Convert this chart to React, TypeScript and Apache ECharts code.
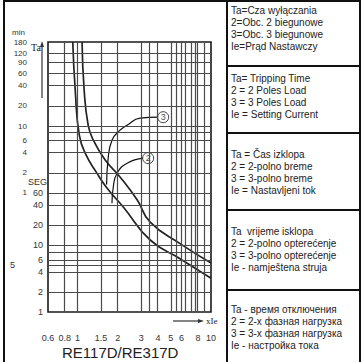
import React, { useEffect, useRef } from 'react';
import * as echarts from 'echarts';

// ---- axis ticks ----
const xTicks = [0.6, 0.8, 1, 1.5, 2, 3, 4, 5, 6, 8, 10];
const minuteTicks = [180, 120, 90, 60, 40, 20, 10, 6, 4, 2, 1];
const secondTicks = [60, 40, 20, 10, 6, 4, 2, 1];
const strayTick = [5];
const xGridLines = [0.8, 1, 1.5, 2, 3, 3.5, 4, 5, 5.5, 6, 6.5, 7, 7.5, 8, 9];
const yGridSeconds = [7200, 5400, 3600, 2400, 1200, 600, 480, 360, 240, 120, 60, 40, 20, 10, 8, 6, 5, 4, 2];

// ---- curves (x = multiple of Ie, t = seconds) ----
const curve3X = [0.92, 0.96, 1.03, 1.16, 1.38, 1.66, 2.2, 3.5, 5.9, 10];
const curve3T = [10800, 2060, 440, 220, 123, 71, 37, 11.9, 6.2, 3.2];
const curve2X = [1.08, 1.12, 1.2, 1.31, 1.61, 2.08, 2.8, 3.5, 5.9, 10];
const curve2T = [10800, 2060, 620, 370, 186, 104, 47, 22, 10.4, 5.4];

// ---- leader lines to labels ----
const leader3X = [4.01, 2.94, 2.35, 2.08, 1.81, 1.69, 1.65];
const leader3T = [813, 787, 618, 520, 369, 186, 80];
const leader2X = [3.1, 2.35, 1.98, 1.85, 1.81];
const leader2T = [199, 167, 119, 73, 42];
const markerX = [4.38, 3.38];
const markerT = [813, 199];
const markerLabels = ['3', '2'];

const legendBlocks = [
  ['Ta=Cza wyłączania', '2=Obc. 2 biegunowe', '3=Obc. 3 biegunowe', 'Ie=Prąd Nastawczy'],
  ['Ta= Tripping Time', '2 = 2 Poles Load', '3 = 3 Poles Load', 'Ie = Setting Current'],
  ['Ta = Čas izklopa', '2 = 2-polno breme', '3 = 3-polno breme', 'Ie = Nastavljeni tok'],
  ['Ta  vrijeme isklopa', '2 = 2-polno opterećenje', '3 = 3-polno opterećenje', 'Ie - namještena struja'],
  ['Ta - время отключения', '2 = 2-х фазная нагрузка', '3 = 3-х фазная нагрузка', 'Ie - настройка тока'],
];
const blockTops = [10, 78, 154, 231, 309];
const dividerYs = [66, 133, 210, 290];

const L = Math.log10;
const toPts = (xs: number[], ts: number[]) => xs.map((x, i) => [L(x), L(ts[i])]);
const YMAX = L(10800);
const SANS = 'Liberation Sans, Arial, sans-serif';
const SERIF = 'Liberation Serif, Times New Roman, serif';

function nearestLabel(v: number, vals: number[], scale: number) {
  let best = vals[0];
  let bd = Infinity;
  for (const t of vals) {
    const d = Math.abs(L(t * scale) - v);
    if (d < bd) { bd = d; best = t; }
  }
  return String(best);
}

export default function App() {
  const ref = useRef<HTMLDivElement>(null);
  useEffect(() => {
    document.body.style.margin = '0';
    if (!ref.current) return;
    const chart = echarts.init(ref.current, undefined, { renderer: 'svg' });

    const yBase = {
      type: 'value' as const,
      min: 0,
      max: YMAX,
      position: 'left' as const,
      axisLine: { show: false },
      axisTick: { show: false },
      splitLine: { show: false },
    };

    const texts: any[] = [];
    legendBlocks.forEach((blk, bi) => {
      blk.forEach((line, li) => {
        texts.push({
          type: 'text',
          x: 231,
          y: blockTops[bi] + li * 12.2,
          style: { text: line, fontSize: 10, fontFamily: SANS, fill: '#222', textVerticalAlign: 'middle' },
        });
      });
    });

    const option: any = {
      animation: false,
      backgroundColor: '#fff',
      title: {
        text: 'RE117D/RE317D',
        left: 62,
        top: 345,
        padding: 0,
        textStyle: { fontSize: 15, fontWeight: 'normal', color: '#222', fontFamily: SANS },
      },
      grid: {
        left: 48, top: 42, right: 151, bottom: 50,
        show: true, borderColor: '#1a1a1a', borderWidth: 1.6, backgroundColor: 'transparent',
      },
      xAxis: {
        type: 'value',
        min: L(0.6),
        max: 1,
        axisLine: { show: false },
        axisTick: { show: false },
        splitLine: { show: false },
        axisLabel: {
          customValues: xTicks.map((v) => L(v)),
          formatter: (v: number) => nearestLabel(v, xTicks, 1),
          fontSize: 9, color: '#333', fontFamily: SANS, margin: 21,
        },
      },
      yAxis: [
        {
          ...yBase,
          offset: 0,
          axisLabel: {
            customValues: secondTicks.map((s) => L(s)),
            formatter: (v: number) => nearestLabel(v, secondTicks, 1),
            fontSize: 9, lineHeight: 8, color: '#333', fontFamily: SANS, margin: 5,
          },
        },
        {
          ...yBase,
          offset: 21,
          axisLabel: {
            customValues: minuteTicks.map((m) => L(m * 60)),
            formatter: (v: number) => nearestLabel(v, minuteTicks, 60),
            fontSize: 8, lineHeight: 8, color: '#333', fontFamily: SANS, margin: 0,
          },
        },
        {
          ...yBase,
          offset: 33,
          axisLabel: {
            customValues: strayTick.map((s) => L(s)),
            formatter: () => String(strayTick[0]),
            fontSize: 9, lineHeight: 8, color: '#333', fontFamily: SANS, margin: 0,
          },
        },
      ],
      graphic: [
        { type: 'rect', shape: { x: 4, y: 1, width: 356, height: 380 }, style: { fill: 'none', stroke: '#111', lineWidth: 2 }, z: 100 },
        { type: 'line', shape: { x1: 227, y1: 0, x2: 227, y2: 362 }, style: { stroke: '#111', lineWidth: 2 }, z: 100 },
        ...dividerYs.map((y) => ({ type: 'line', shape: { x1: 227, y1: y, x2: 361, y2: y }, style: { stroke: '#111', lineWidth: 2 }, z: 100 })),
        ...texts,
        { type: 'text', x: 12, y: 32, style: { text: 'min', fontSize: 8, fontFamily: SANS, fill: '#333', textVerticalAlign: 'middle' } },
        { type: 'text', x: 28, y: 182, style: { text: 'SEG', fontSize: 9, fontFamily: SANS, fill: '#333', textVerticalAlign: 'middle' } },
        { type: 'text', x: 31, y: 47, style: { text: 'Ta', fontSize: 10, fontFamily: SERIF, fill: '#222', textVerticalAlign: 'middle' } },
        { type: 'line', shape: { x1: 42, y1: 98, x2: 42, y2: 45 }, style: { stroke: '#333', lineWidth: 1.2 } },
        { type: 'polygon', shape: { points: [[42, 41], [40, 47], [44, 47]] }, style: { fill: '#333' } },
        { type: 'line', shape: { x1: 173, y1: 321, x2: 199, y2: 321 }, style: { stroke: '#333', lineWidth: 1.2 } },
        { type: 'polygon', shape: { points: [[204, 321], [198, 319], [198, 323]] }, style: { fill: '#333' } },
        { type: 'text', x: 206, y: 321, style: { text: 'xIe', fontSize: 9, fontFamily: SERIF, fill: '#222', textVerticalAlign: 'middle' } },
      ],
      series: [
        {
          type: 'line',
          name: 'grid',
          data: [[L(0.6), 0]],
          showSymbol: false,
          lineStyle: { opacity: 0 },
          silent: true,
          z: 1,
          markLine: {
            silent: true,
            symbol: ['none', 'none'],
            label: { show: false },
            lineStyle: { color: '#4a4a4a', width: 1.2, type: 'solid' },
            emphasis: { disabled: true },
            data: [
              ...xGridLines.map((v) => ({ xAxis: L(v) })),
              ...yGridSeconds.map((v) => ({ yAxis: L(v) })),
            ],
          },
        },
        {
          type: 'line', name: '3', data: toPts(curve3X, curve3T), smooth: 0.5, showSymbol: false,
          lineStyle: { color: '#222', width: 1.7 }, z: 3,
        },
        {
          type: 'line', name: '2', data: toPts(curve2X, curve2T), smooth: 0.5, showSymbol: false,
          lineStyle: { color: '#222', width: 1.7 }, z: 3,
        },
        {
          type: 'line', name: 'leader3', data: toPts(leader3X, leader3T), smooth: 0.5, showSymbol: false,
          lineStyle: { color: '#111', width: 1.2 }, z: 3,
        },
        {
          type: 'line', name: 'leader2', data: toPts(leader2X, leader2T), smooth: 0.5, showSymbol: false,
          lineStyle: { color: '#111', width: 1.2 }, z: 3,
        },
        {
          type: 'scatter', name: 'markers',
          data: toPts(markerX, markerT),
          symbol: 'circle', symbolSize: 11,
          itemStyle: { color: '#fff', borderColor: '#111', borderWidth: 1 },
          label: {
            show: true, position: 'inside', fontSize: 9, color: '#111', fontFamily: SANS,
            formatter: (p: any) => markerLabels[p.dataIndex],
          },
          z: 4,
        },
      ],
    };
    chart.setOption(option);
    return () => chart.dispose();
  }, []);
  return <div ref={ref} style={{ width: 362, height: 362 }} />;
}
